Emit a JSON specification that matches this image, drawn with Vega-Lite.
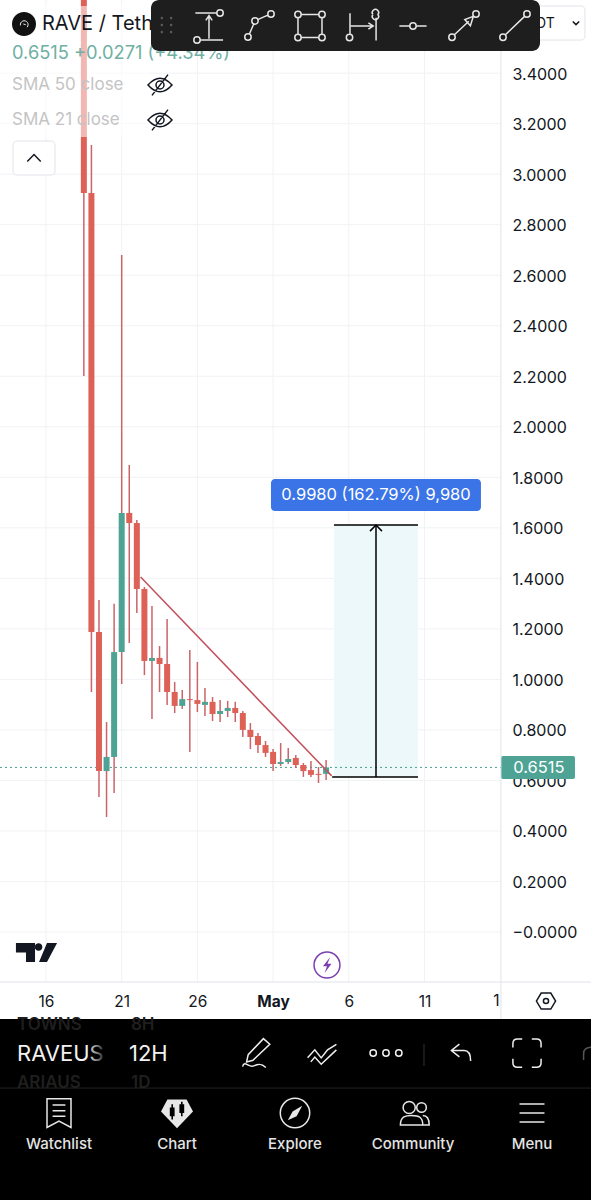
{
"$schema":"https://vega.github.io/schema/vega-lite/v6.json",
"width":591,"height":1200,"padding":0,"autosize":{"type":"none"},"background":"#ffffff",
"config":{"view":{"stroke":null},"text":{"font":"Inter"},"axis":{"labelFont":"Inter"}},
"datasets":{
"candles":[
{"day":18.5,"open":3.85,"high":3.85,"low":2.201,"close":2.926,"dir":"down"},
{"day":19,"open":2.926,"high":3.116,"low":0.95,"close":1.188,"dir":"down"},
{"day":19.5,"open":1.188,"high":1.314,"low":0.534,"close":0.637,"dir":"down"},
{"day":20,"open":0.637,"high":0.831,"low":0.455,"close":0.693,"dir":"up"},
{"day":20.5,"open":0.693,"high":1.299,"low":0.55,"close":1.108,"dir":"up"},
{"day":21,"open":1.108,"high":2.68,"low":0.982,"close":1.659,"dir":"up"},
{"day":21.5,"open":1.659,"high":1.849,"low":1.144,"close":1.619,"dir":"down"},
{"day":22,"open":1.619,"high":1.631,"low":1.263,"close":1.358,"dir":"down"},
{"day":22.5,"open":1.358,"high":1.366,"low":1.017,"close":1.073,"dir":"down"},
{"day":23,"open":1.073,"high":1.291,"low":0.843,"close":1.085,"dir":"up"},
{"day":23.5,"open":1.085,"high":1.132,"low":0.95,"close":1.061,"dir":"down"},
{"day":24,"open":1.061,"high":1.239,"low":0.899,"close":0.95,"dir":"down"},
{"day":24.5,"open":0.95,"high":0.99,"low":0.867,"close":0.895,"dir":"down"},
{"day":25,"open":0.895,"high":0.958,"low":0.883,"close":0.922,"dir":"up"},
{"day":25.5,"open":0.922,"high":1.116,"low":0.713,"close":0.918,"dir":"down"},
{"day":26,"open":0.918,"high":1.069,"low":0.871,"close":0.903,"dir":"down"},
{"day":26.5,"open":0.899,"high":0.966,"low":0.855,"close":0.911,"dir":"up"},
{"day":27,"open":0.911,"high":0.93,"low":0.835,"close":0.863,"dir":"down"},
{"day":27.5,"open":0.863,"high":0.918,"low":0.831,"close":0.875,"dir":"up"},
{"day":28,"open":0.875,"high":0.915,"low":0.851,"close":0.887,"dir":"up"},
{"day":28.5,"open":0.887,"high":0.911,"low":0.831,"close":0.867,"dir":"down"},
{"day":29,"open":0.867,"high":0.875,"low":0.772,"close":0.8,"dir":"down"},
{"day":29.5,"open":0.8,"high":0.827,"low":0.724,"close":0.772,"dir":"down"},
{"day":30,"open":0.776,"high":0.788,"low":0.709,"close":0.74,"dir":"down"},
{"day":30.5,"open":0.74,"high":0.756,"low":0.693,"close":0.709,"dir":"down"},
{"day":31,"open":0.713,"high":0.724,"low":0.637,"close":0.665,"dir":"down"},
{"day":31.5,"open":0.665,"high":0.748,"low":0.657,"close":0.673,"dir":"up"},
{"day":32,"open":0.673,"high":0.728,"low":0.665,"close":0.685,"dir":"up"},
{"day":32.5,"open":0.689,"high":0.701,"low":0.649,"close":0.661,"dir":"down"},
{"day":33,"open":0.661,"high":0.669,"low":0.614,"close":0.637,"dir":"down"},
{"day":33.5,"open":0.641,"high":0.677,"low":0.614,"close":0.622,"dir":"down"},
{"day":34,"open":0.626,"high":0.653,"low":0.59,"close":0.622,"dir":"down"},
{"day":34.5,"open":0.626,"high":0.681,"low":0.602,"close":0.6515,"dir":"up"}
],
"strokeIcons":[
{"icon":"tb1","day":26.766,"price":3.5867},{"icon":"tb2","day":30.069,"price":3.5867},{"icon":"tb3","day":33.437,"price":3.5867},{"icon":"tb4","day":36.872,"price":3.5867},{"icon":"tb5","day":40.24,"price":3.5867},{"icon":"tb6","day":43.609,"price":3.5867},{"icon":"tb7","day":46.977,"price":3.5867},
{"icon":"eye","day":23.53,"price":3.3531},{"icon":"eye","day":23.53,"price":3.2145},{"icon":"chevUp","day":15.208,"price":3.0641},{"icon":"chevDown","day":51.006,"price":3.5985},{"icon":"hex","day":49.025,"price":-0.2734},
{"icon":"ring","day":34.56,"price":-0.1308},
{"icon":"pen","day":29.937,"price":-0.4793},{"icon":"wave","day":34.23,"price":-0.4793},{"icon":"dots","day":38.457,"price":-0.4793},{"icon":"undo","day":43.411,"price":-0.4754},{"icon":"full","day":47.77,"price":-0.4793},{"icon":"redo","day":51.931,"price":-0.4754},
{"icon":"watch","day":16.859,"price":-0.7168},{"icon":"compass","day":32.447,"price":-0.7168},{"icon":"people","day":40.306,"price":-0.7168},{"icon":"menu","day":48.101,"price":-0.7168}
],
"fillIcons":[
{"icon":"logo","day":14.547,"price":3.5946},{"icon":"tv","day":15.373,"price":-0.0813},{"icon":"grip","day":23.959,"price":3.5906},{"icon":"bolt","day":34.56,"price":-0.1308},{"icon":"gem","day":24.653,"price":-0.7168},{"icon":"gemCandles","day":24.653,"price":-0.7168},{"icon":"needle","day":32.447,"price":-0.7168}
]
},
"encoding":{
"x":{"field":"day","type":"quantitative","title":null,"scale":{"domain":[12.962,51.998],"nice":false,"zero":false,"padding":0},
"axis":{"orient":"bottom","offset":-207,"values":[16,21,26,31,36,41],"domain":false,"ticks":false,"grid":false,"labelPadding":8,"labelBaseline":"middle","labelFontSize":15.5,"labelColor":"#131722","labelAlign":"center","labelFlush":false,"labelOverlap":false,"labelExpr":"datum.value===31?'May':datum.value>31?''+(datum.value-30):''+datum.value","labelFontWeight":{"condition":{"test":"datum.value===31","value":"bold"},"value":"normal"}}},
"y":{"field":"price","type":"quantitative","title":null,"scale":{"domain":[-1.061,3.6896],"nice":false,"zero":false},
"axis":{"orient":"right","offset":-90,"values":[0,0.2,0.4,0.6,0.8,1,1.2,1.4,1.6,1.8,2,2.2,2.4,2.6,2.8,3,3.2,3.4],"domain":false,"ticks":false,"grid":false,"labelPadding":11,"labelAlign":"left","labelFontSize":16,"labelOffset":1,"labelColor":"#131722","labelOverlap":false,"labelFlush":false,"labelExpr":"datum.value===0?'\u22120.0000':format(datum.value,'.4f')"}}
},
"layer":[
{"data":{"values":[{"day":12.962,"day2":46.05,"price":0},{"day":12.962,"day2":46.05,"price":0.2},{"day":12.962,"day2":46.05,"price":0.4},{"day":12.962,"day2":46.05,"price":0.6},{"day":12.962,"day2":46.05,"price":0.8},{"day":12.962,"day2":46.05,"price":1},{"day":12.962,"day2":46.05,"price":1.2},{"day":12.962,"day2":46.05,"price":1.4},{"day":12.962,"day2":46.05,"price":1.6},{"day":12.962,"day2":46.05,"price":1.8},{"day":12.962,"day2":46.05,"price":2},{"day":12.962,"day2":46.05,"price":2.2},{"day":12.962,"day2":46.05,"price":2.4},{"day":12.962,"day2":46.05,"price":2.6},{"day":12.962,"day2":46.05,"price":2.8},{"day":12.962,"day2":46.05,"price":3},{"day":12.962,"day2":46.05,"price":3.2},{"day":12.962,"day2":46.05,"price":3.4}]},
"mark":{"type":"rule","stroke":"#f1f2f5","strokeWidth":1},"encoding":{"x2":{"field":"day2"}}},
{"data":{"values":[{"day":16,"price":3.6896,"price2":-0.198},{"day":21,"price":3.6896,"price2":-0.198},{"day":26,"price":3.6896,"price2":-0.198},{"day":31,"price":3.6896,"price2":-0.198},{"day":36,"price":3.6896,"price2":-0.198},{"day":41,"price":3.6896,"price2":-0.198}]},
"mark":{"type":"rule","stroke":"#f1f2f5","strokeWidth":1},"encoding":{"y2":{"field":"price2"}}},
{"data":{"values":[{"day":35.02,"day2":40.57,"price":1.611,"price2":0.614}]},"mark":{"type":"rect","fill":"#ecf8f9"},"encoding":{"x2":{"field":"day2"},"y2":{"field":"price2"}}},
{"data":{"values":[{"day":12.962,"day2":46.05,"price":0.6515}]},"mark":{"type":"rule","stroke":"#4aa08f","strokeWidth":1,"strokeDash":[2,3]},"encoding":{"x2":{"field":"day2"}}},
{"data":{"name":"candles"},"mark":{"type":"rule","stroke":"#c9646a","strokeWidth":1.5,"clip":true},"encoding":{"y":{"field":"high","type":"quantitative","title":null,"axis":{"orient":"right","offset":-90,"values":[0,0.2,0.4,0.6,0.8,1,1.2,1.4,1.6,1.8,2,2.2,2.4,2.6,2.8,3,3.2,3.4],"domain":false,"ticks":false,"grid":false,"labelPadding":11,"labelAlign":"left","labelFontSize":16,"labelOffset":1,"labelColor":"#131722","labelOverlap":false,"labelFlush":false,"labelExpr":"datum.value===0?'\u22120.0000':format(datum.value,'.4f')"}},"y2":{"field":"low"}}},
{"data":{"name":"candles"},"mark":{"type":"bar","size":6,"orient":"vertical","clip":true},"encoding":{"y":{"field":"open","type":"quantitative","title":null,"axis":{"orient":"right","offset":-90,"values":[0,0.2,0.4,0.6,0.8,1,1.2,1.4,1.6,1.8,2,2.2,2.4,2.6,2.8,3,3.2,3.4],"domain":false,"ticks":false,"grid":false,"labelPadding":11,"labelAlign":"left","labelFontSize":16,"labelOffset":1,"labelColor":"#131722","labelOverlap":false,"labelFlush":false,"labelExpr":"datum.value===0?'\u22120.0000':format(datum.value,'.4f')"}},"y2":{"field":"close"},"color":{"field":"dir","type":"nominal","legend":null,"scale":{"domain":["up","down"],"range":["#4ea394","#de6157"]}}}},
{"data":{"values":[{"day":22.25,"price":1.405},{"day":34.87,"price":0.618}]},"mark":{"type":"line","stroke":"#c2505a","strokeWidth":1.5}},
{"data":{"values":[{"day":34.9,"day2":40.57,"price":0.614},{"day":35.02,"day2":40.57,"price":1.611}]},"mark":{"type":"rule","stroke":"#000000","strokeWidth":1.5},"encoding":{"x2":{"field":"day2"}}},
{"data":{"values":[{"day":37.797,"price":1.611,"price2":0.614}]},"mark":{"type":"rule","stroke":"#000000","strokeWidth":1.5},"encoding":{"y2":{"field":"price2"}}},
{"data":{"values":[{"day":37.4,"price":1.587},{"day":37.797,"price":1.611},{"day":38.19,"price":1.587}]},"mark":{"type":"line","stroke":"#000000","strokeWidth":1.5}},
{"data":{"values":[{"day":30.86,"day2":44.73,"price":1.7932,"price2":1.6666}]},"mark":{"type":"rect","fill":"#3b74e6","cornerRadius":4},"encoding":{"x2":{"field":"day2"},"y2":{"field":"price2"}}},
{"data":{"values":[{"day":46.05,"day2":50.94,"price":0.6966,"price2":0.6056}]},"mark":{"type":"rect","fill":"#4ea394","cornerRadius":2},"encoding":{"x2":{"field":"day2"},"y2":{"field":"price2"}}},
{"data":{"values":[{"day":37.797,"price":1.7299,"label":"0.9980 (162.79%) 9,980"},{"day":48.56,"price":0.6491,"label":"0.6515"}]},"mark":{"type":"text","font":"Inter","fontSize":16.5,"fill":"#ffffff","align":"center","baseline":"middle"},"encoding":{"text":{"field":"label"}}},
{"data":{"values":[{"day":12.962,"day2":22.87,"price":3.6658,"price2":3.1472}]},"mark":{"type":"rect","fill":"#ffffff","opacity":0.55},"encoding":{"x2":{"field":"day2"},"y2":{"field":"price2"}}},
{"data":{"values":[{"day":13.82,"day2":16.595,"price":3.1314,"price2":2.9968},{"day":47.31,"day2":51.6,"price":3.666,"price2":3.531}]},"mark":{"type":"rect","fill":"#ffffff","stroke":"#e0e3eb","cornerRadius":4},"encoding":{"x2":{"field":"day2"},"y2":{"field":"price2"}}},
{"data":{"values":[{"day":15.736,"price":3.5946,"label":"RAVE / TetherUS"}]},"mark":{"type":"text","font":"Inter","fontSize":20,"fill":"#131722","align":"left","baseline":"middle"},"encoding":{"text":{"field":"label"}}},
{"data":{"values":[{"day":13.755,"price":3.4758,"label":"0.6515 +0.0271 (+4.34%)"}]},"mark":{"type":"text","font":"Inter","fontSize":18.3,"fill":"#6fb0a2","align":"left","baseline":"middle"},"encoding":{"text":{"field":"label"}}},
{"data":{"values":[{"day":13.755,"price":3.3531,"label":"SMA 50  close"},{"day":13.755,"price":3.2145,"label":"SMA 21  close"}]},"mark":{"type":"text","font":"Inter","fontSize":17,"fill":"#c4c4c4","align":"left","baseline":"middle"},"encoding":{"text":{"field":"label"}}},
{"data":{"values":[{"day":49.6,"price":3.5946,"label":"USDT"}]},"mark":{"type":"text","font":"Inter","fontSize":14,"fill":"#131722","align":"right","baseline":"middle"},"encoding":{"text":{"field":"label"}}},
{"data":{"values":[{"day":45.75,"price":-0.2734,"label":"1"}]},"mark":{"type":"text","font":"Inter","fontSize":15.5,"fill":"#131722","align":"center","baseline":"middle"},"encoding":{"text":{"field":"label"}}},
{"data":{"values":[{"day":46.05,"price":3.6896,"price2":-0.3446}]},"mark":{"type":"rule","stroke":"#e0e3eb","strokeWidth":1},"encoding":{"y2":{"field":"price2"}}},
{"data":{"values":[{"day":12.962,"day2":51.998,"price":-0.198}]},"mark":{"type":"rule","stroke":"#e0e3eb","strokeWidth":1},"encoding":{"x2":{"field":"day2"}}},
{"data":{"values":[{"day":22.935,"day2":48.63,"price":3.6896,"price2":3.4877}]},"mark":{"type":"rect","fill":"#1e1e1e","cornerRadius":8},"encoding":{"x2":{"field":"day2"},"y2":{"field":"price2"}}},
{"data":{"values":[{"day":12.962,"day2":51.998,"price":-0.3446,"price2":-1.061}]},"mark":{"type":"rect","fill":"#000000"},"encoding":{"x2":{"field":"day2"},"y2":{"field":"price2"}}},
{"data":{"values":[{"day":14.085,"price":-0.3684,"label":"TOWNS"},{"day":21.614,"price":-0.3684,"label":"8H"},{"day":14.085,"price":-0.598,"label":"ARIAUS"},{"day":21.614,"price":-0.598,"label":"1D"}]},"mark":{"type":"text","font":"Inter","fontSize":17,"fontWeight":600,"fill":"#1f1f1f","align":"left","baseline":"middle"},"encoding":{"text":{"field":"label"}}},
{"data":{"values":[{"day":12.962,"day2":51.998,"price":-0.6178}]},"mark":{"type":"rule","stroke":"#222222","strokeWidth":1},"encoding":{"x2":{"field":"day2"}}},
{"data":{"values":[{"day":40.967,"price":-0.4436,"price2":-0.5307}]},"mark":{"type":"rule","stroke":"#333333","strokeWidth":1},"encoding":{"y2":{"field":"price2"}}},
{"data":{"values":[{"day":14.085,"price":-0.4832,"label":"RAVEUS"},{"day":21.482,"price":-0.4832,"label":"12H"}]},"mark":{"type":"text","font":"Inter","fontSize":22,"fill":"#f2f2f2","align":"left","baseline":"middle"},"encoding":{"text":{"field":"label"}}},
{"data":{"values":[{"day":18.7,"day2":19.9,"price":-0.44,"price2":-0.53}]},"mark":{"type":"rect","fill":{"gradient":"linear","x1":0,"x2":1,"y1":0,"y2":0,"stops":[{"offset":0,"color":"rgba(0,0,0,0)"},{"offset":1,"color":"rgba(0,0,0,0.85)"}]}},"encoding":{"x2":{"field":"day2"},"y2":{"field":"price2"}}},
{"data":{"values":[{"day":16.859,"price":-0.8394,"label":"Watchlist"},{"day":24.653,"price":-0.8394,"label":"Chart"},{"day":32.447,"price":-0.8394,"label":"Explore"},{"day":40.24,"price":-0.8394,"label":"Community"},{"day":48.101,"price":-0.8394,"label":"Menu"}]},"mark":{"type":"text","font":"Inter","fontSize":15,"fontWeight":500,"fill":"#e4e4e4","align":"center","baseline":"middle"},"encoding":{"text":{"field":"label"}}},
{"data":{"name":"fillIcons"},"mark":{"type":"point","filled":true,"size":1024,"opacity":1},"encoding":{
"shape":{"field":"icon","type":"nominal","legend":null,"scale":{"domain":["logo","tv","grip","bolt","gem","gemCandles","needle"],"range":[
"M-0.75 0A0.75 0.75 0 1 0 0.75 0A0.75 0.75 0 1 0 -0.75 0Z",
"M-1.286 -0.59L-0.092 -0.59L-0.092 0.59L-0.656 0.59L-0.656 0L-1.286 0ZM-0.105 -0.341A0.236 0.236 0 1 0 0.367 -0.341A0.236 0.236 0 1 0 -0.105 -0.341ZM1.286 -0.59L0.656 0.59L0.158 0.59L0.656 -0.59Z",
"M-0.37 -0.44A0.08 0.08 0 1 0 -0.21 -0.44A0.08 0.08 0 1 0 -0.37 -0.44ZM-0.37 0A0.08 0.08 0 1 0 -0.21 0A0.08 0.08 0 1 0 -0.37 0ZM-0.37 0.44A0.08 0.08 0 1 0 -0.21 0.44A0.08 0.08 0 1 0 -0.37 0.44ZM0.21 -0.44A0.08 0.08 0 1 0 0.37 -0.44A0.08 0.08 0 1 0 0.21 -0.44ZM0.21 0A0.08 0.08 0 1 0 0.37 0A0.08 0.08 0 1 0 0.21 0ZM0.21 0.44A0.08 0.08 0 1 0 0.37 0.44A0.08 0.08 0 1 0 0.21 0.44Z",
"M0.2 -0.5L-0.25 0.08L0 0.08L-0.15 0.5L0.28 -0.08L0.03 -0.08Z",
"M-0.6 -0.85L0.6 -0.85L1 -0.1L0 0.95L-1 -0.1Z",
"M-0.45 -0.35L-0.35 -0.35L-0.35 -0.55L-0.25 -0.55L-0.25 -0.35L-0.15 -0.35L-0.15 0.2L-0.25 0.2L-0.25 0.4L-0.35 0.4L-0.35 0.2L-0.45 0.2ZM0.15 -0.55L0.25 -0.55L0.25 -0.7L0.35 -0.7L0.35 -0.55L0.45 -0.55L0.45 0L0.35 0L0.35 0.2L0.25 0.2L0.25 0L0.15 0Z",
"M0.45 -0.45L0.1 0.2L-0.45 0.45L-0.15 -0.1Z"]}},
"fill":{"field":"icon","type":"nominal","legend":null,"scale":{"domain":["logo","tv","grip","bolt","gem","gemCandles","needle"],"range":["#111111","#131722","#5a5a5a","#7b3fb0","#e8e8e8","#000000","#e8e8e8"]}}}},
{"data":{"name":"strokeIcons"},"mark":{"type":"point","filled":false,"size":1024,"opacity":1,"strokeWidth":1.5,"fill":"transparent"},"encoding":{
"shape":{"field":"icon","type":"nominal","legend":null,"scale":{"domain":["tb1","tb2","tb3","tb4","tb5","tb6","tb7","eye","chevUp","chevDown","hex","ring","pen","wave","dots","undo","full","redo","watch","compass","people","menu"],"range":[
"M-0.85 -0.81L0.45 -0.81M0.49 -0.81A0.2 0.2 0 1 0 0.89 -0.81A0.2 0.2 0 1 0 0.49 -0.81M-0.95 0.88A0.2 0.2 0 1 0 -0.55 0.88A0.2 0.2 0 1 0 -0.95 0.88M-0.55 0.88L0.88 0.88M0 0.8L0 -0.6M-0.2 -0.35L0 -0.65L0.2 -0.35",
"M-0.89 0.69A0.2 0.2 0 1 0 -0.49 0.69A0.2 0.2 0 1 0 -0.89 0.69M-0.45 -0.31A0.2 0.2 0 1 0 -0.05 -0.31A0.2 0.2 0 1 0 -0.45 -0.31M0.55 -0.75A0.2 0.2 0 1 0 0.95 -0.75A0.2 0.2 0 1 0 0.55 -0.75M-0.6 0.5L-0.33 -0.12M-0.08 -0.4L0.55 -0.68",
"M-0.95 -0.72A0.2 0.2 0 1 0 -0.55 -0.72A0.2 0.2 0 1 0 -0.95 -0.72M0.55 -0.72A0.2 0.2 0 1 0 0.95 -0.72A0.2 0.2 0 1 0 0.55 -0.72M-0.95 0.72A0.2 0.2 0 1 0 -0.55 0.72A0.2 0.2 0 1 0 -0.95 0.72M0.55 0.72A0.2 0.2 0 1 0 0.95 0.72A0.2 0.2 0 1 0 0.55 0.72M-0.55 -0.72L0.55 -0.72M-0.55 0.72L0.55 0.72M-0.75 -0.52L-0.75 0.52M0.75 -0.52L0.75 0.52",
"M-0.75 -0.8L-0.75 0.52M-0.98 0.72A0.2 0.2 0 1 0 -0.58 0.72A0.2 0.2 0 1 0 -0.98 0.72M0.88 -0.52L0.88 0.9M0.68 -0.72A0.2 0.2 0 1 0 1 -0.72A0.2 0.2 0 1 0 0.68 -0.72M-0.7 0L0.6 0M0.4 -0.2L0.7 0L0.4 0.2",
"M-0.85 0L-0.2 0M-0.2 0A0.2 0.2 0 1 0 0.2 0A0.2 0.2 0 1 0 -0.2 0M0.2 0L0.85 0",
"M-0.95 0.7A0.2 0.2 0 1 0 -0.55 0.7A0.2 0.2 0 1 0 -0.95 0.7M0.55 -0.75A0.2 0.2 0 1 0 0.95 -0.75A0.2 0.2 0 1 0 0.55 -0.75M-0.6 0.55L0.3 -0.3M0.58 -0.6L0.05 -0.4L0.4 -0.02Z",
"M-0.95 0.7A0.2 0.2 0 1 0 -0.55 0.7A0.2 0.2 0 1 0 -0.95 0.7M0.55 -0.75A0.2 0.2 0 1 0 0.95 -0.75A0.2 0.2 0 1 0 0.55 -0.75M-0.6 0.55L0.6 -0.6",
"M-0.75 0Q0 -0.85 0.75 0Q0 0.85 -0.75 0ZM-0.25 0A0.25 0.25 0 1 0 0.25 0A0.25 0.25 0 1 0 -0.25 0M-0.5 0.65L0.5 -0.65",
"M-0.42 0.22L0 -0.22L0.42 0.22",
"M-0.2 -0.1L0 0.1L0.2 -0.1",
"M-0.6 0L-0.3 -0.5L0.3 -0.5L0.6 0L0.3 0.5L-0.3 0.5ZM-0.16 0A0.16 0.16 0 1 0 0.16 0A0.16 0.16 0 1 0 -0.16 0",
"M-0.81 0A0.81 0.81 0 1 0 0.81 0A0.81 0.81 0 1 0 -0.81 0",
"M0.4 -0.9L0.8 -0.55L-0.25 0.45L-0.65 0.55L-0.55 0.1ZM-0.9 0.85C-0.8 0.4 -0.5 0.95 -0.2 0.8C0.1 0.65 0.3 0.65 0.55 0.9",
"M-0.9 0.3L-0.45 -0.2L-0.05 0.3L0.35 -0.2L0.9 -0.55M-0.7 0.55L-0.45 0.25L-0.05 0.7L0.9 -0.2",
"M-1 0A0.2 0.2 0 1 0 -0.6 0A0.2 0.2 0 1 0 -1 0M-0.2 0A0.2 0.2 0 1 0 0.2 0A0.2 0.2 0 1 0 -0.2 0M0.6 0A0.2 0.2 0 1 0 1 0A0.2 0.2 0 1 0 0.6 0",
"M-0.1 -0.5L-0.6 -0.1L-0.1 0.3M-0.6 -0.1L0.2 -0.1C0.5 -0.1 0.6 0.2 0.6 0.55",
"M-0.88 -0.35L-0.88 -0.6Q-0.88 -0.88 -0.6 -0.88L-0.3 -0.88M0.3 -0.88L0.6 -0.88Q0.88 -0.88 0.88 -0.6L0.88 -0.35M0.88 0.35L0.88 0.6Q0.88 0.88 0.6 0.88L0.3 0.88M-0.3 0.88L-0.6 0.88Q-0.88 0.88 -0.88 0.6L-0.88 0.35",
"M-0.4 0.5L-0.4 0.1Q-0.4 -0.3 0.1 -0.3",
"M-0.75 -0.9L0.75 -0.9L0.75 0.9L0 0.5L-0.75 0.9ZM-0.4 -0.5L0.4 -0.5M-0.4 -0.15L0.4 -0.15M-0.4 0.2L0.4 0.2",
"M-0.92 0A0.92 0.92 0 1 0 0.92 0A0.92 0.92 0 1 0 -0.92 0",
"M-0.68 -0.35A0.38 0.38 0 1 0 0.08 -0.35A0.38 0.38 0 1 0 -0.68 -0.35M0.17 -0.35A0.3 0.3 0 1 0 0.77 -0.35A0.3 0.3 0 1 0 0.17 -0.35M-0.85 0.75C-0.85 0.2 -0.5 0.15 -0.15 0.15C0.3 0.15 0.55 0.25 0.55 0.75ZM0.55 0.15C0.8 0.15 0.95 0.3 0.95 0.75L0.55 0.75",
"M-0.78 -0.56L0.78 -0.56M-0.78 0L0.78 0M-0.78 0.56L0.78 0.56"]}},
"stroke":{"field":"icon","type":"nominal","legend":null,"scale":{"domain":["tb1","tb2","tb3","tb4","tb5","tb6","tb7","eye","chevUp","chevDown","hex","ring","pen","wave","dots","undo","full","redo","watch","compass","people","menu"],"range":["#e6e6e6","#e6e6e6","#e6e6e6","#e6e6e6","#e6e6e6","#e6e6e6","#e6e6e6","#131722","#131722","#131722","#131722","#7b3fb0","#efefef","#efefef","#efefef","#efefef","#efefef","#555555","#e8e8e8","#e8e8e8","#e8e8e8","#e8e8e8"]}}}},
{"data":{"values":[{"day":14.547,"price":3.5946}]},"mark":{"type":"point","filled":false,"opacity":1,"size":196,"shape":"M-0.5 0.2A0.55 0.55 0 1 1 0.45 0.45M-0.1 0L0.25 0.1","stroke":"#eeeeee","strokeWidth":1}}
],
"resolve":{"scale":{"shape":"independent","fill":"independent","stroke":"independent","color":"independent"}}
}
